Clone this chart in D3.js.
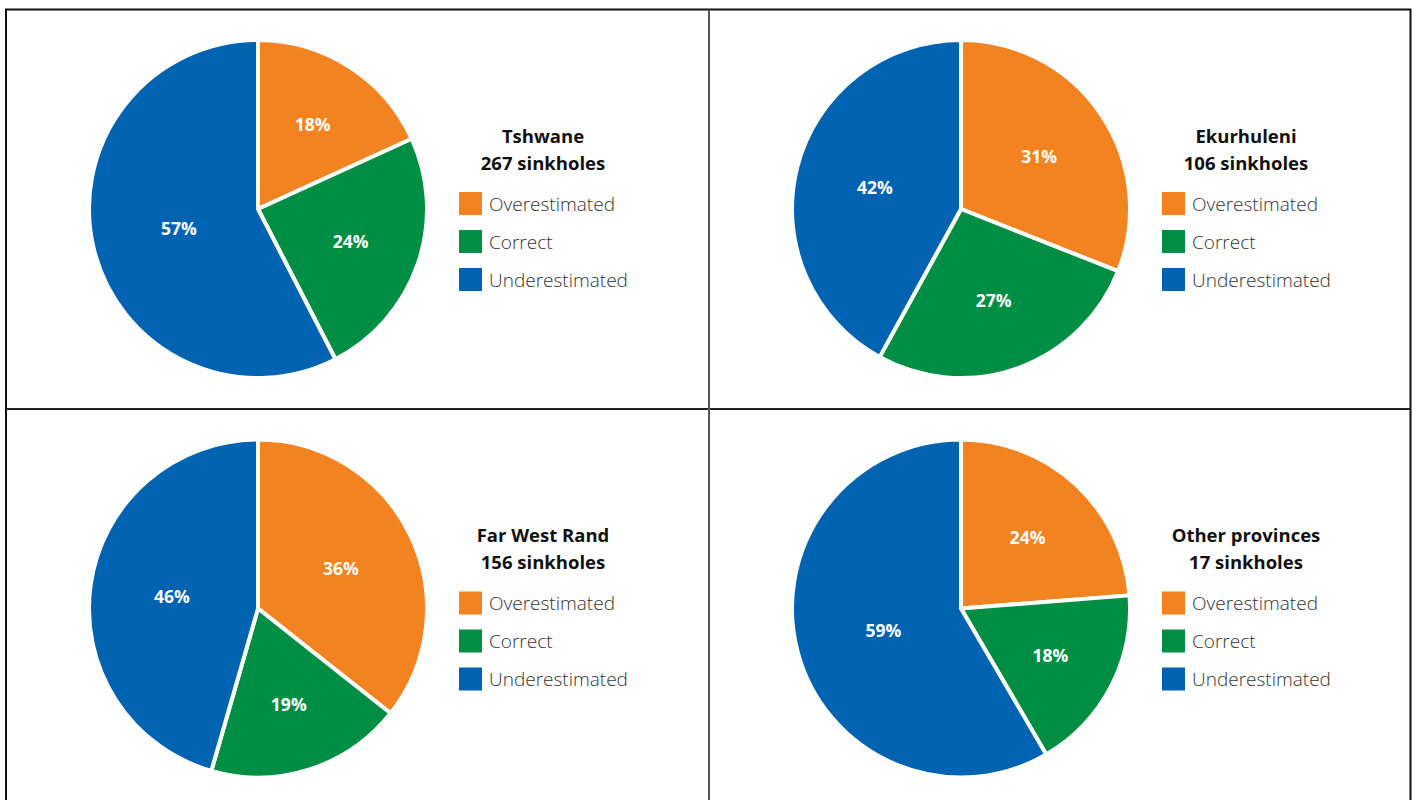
<!DOCTYPE html>
<html><head><meta charset="utf-8">
<script src="https://cdn.jsdelivr.net/npm/d3@7"></script>
<style>
html,body{margin:0;padding:0;background:#fff;}
svg{display:block;}
</style></head>
<body>
<svg id="chart" width="1416" height="800"></svg>
<script>
// ---- data ----
const categories = ["Overestimated", "Correct", "Underestimated"];
const regions = ["Tshwane", "Ekurhuleni", "Far West Rand", "Other provinces"];
const sinkholeCounts = [267, 106, 156, 17];
const tshwaneValues = [18, 24, 57];
const ekurhuleniValues = [31, 27, 42];
const farWestRandValues = [36, 19, 46];
const otherProvincesValues = [24, 18, 59];
const seriesValues = [tshwaneValues, ekurhuleniValues, farWestRandValues, otherProvincesValues];
const colors = ["#F38321", "#008D44", "#0063B1"];

// ---- layout ----
const svg = d3.select("#chart");
const frameL = 6, frameT = 9.5, frameR = 1410.5, midX = 709, midY = 409;

// frame
svg.append("path")
  .attr("d", `M${frameL},820 L${frameL},${frameT} L${frameR},${frameT} L${frameR},820`)
  .attr("fill", "none").attr("stroke", "#111").attr("stroke-width", 2);
svg.append("line").attr("x1", frameL).attr("x2", frameR).attr("y1", midY).attr("y2", midY)
  .attr("stroke", "#222").attr("stroke-width", 2);
svg.append("line").attr("x1", midX).attr("x2", midX).attr("y1", frameT).attr("y2", 820)
  .attr("stroke", "#555").attr("stroke-width", 2);

const radius = 169;
const pie = d3.pie().sort(null).value(d => d);
const arc = d3.arc().innerRadius(0).outerRadius(radius);
// label distance shrinks a little for bigger slices
const labelPos = d => {
  const r = 110 - 0.5 * d.data;
  return d3.arc().innerRadius(r).outerRadius(r).centroid(d);
};

const color = d3.scaleOrdinal().domain(categories).range(colors);

regions.forEach((name, i) => {
  const col = i % 2, row = Math.floor(i / 2);
  const px = frameL + col * (midX - frameL);
  const py = frameT + row * (midY - frameT);
  const g = svg.append("g").attr("transform", `translate(${px},${py})`);

  const cx = 252, cy = 199.5;
  const pg = g.append("g").attr("transform", `translate(${cx},${cy})`);
  const arcs = pie(seriesValues[i]);
  pg.selectAll("path").data(arcs).enter().append("path")
    .attr("d", arc)
    .attr("fill", (d, j) => color(categories[j]))
    .attr("stroke", "#fff").attr("stroke-width", 4).attr("stroke-linejoin", "miter");
  pg.selectAll("text").data(arcs).enter().append("text")
    .attr("transform", d => `translate(${labelPos(d)})`)
    .attr("text-anchor", "middle").attr("dominant-baseline", "central")
    .attr("fill", "#fff")
    .attr("font-family", "'Open Sans', 'Noto Sans', sans-serif")
    .attr("font-weight", 700).attr("font-size", 17.5)
    .text(d => d.data + "%");

  // title
  const tx = 537;
  const title = g.append("text").attr("text-anchor", "middle")
    .attr("font-family", "'Open Sans', 'Noto Sans', sans-serif")
    .attr("font-weight", 700).attr("font-size", 18.5).attr("fill", "#111");
  title.append("tspan").attr("x", tx).attr("y", 133).text(name);
  title.append("tspan").attr("x", tx).attr("y", 160).text(sinkholeCounts[i] + " sinkholes");

  // legend
  const leg = g.append("g").attr("transform", "translate(453,182.5)");
  const items = leg.selectAll("g").data(categories).enter().append("g")
    .attr("transform", (d, j) => `translate(0,${j * 38})`);
  items.append("rect").attr("width", 23).attr("height", 23).attr("fill", d => color(d));
  items.append("text").attr("x", 30).attr("y", 18.5)
    .attr("font-family", "'Open Sans', 'Noto Sans', sans-serif")
    .attr("font-weight", 300).attr("font-size", 19).attr("fill", "#333")
    .text(d => d);
});
</script>
</body></html>
